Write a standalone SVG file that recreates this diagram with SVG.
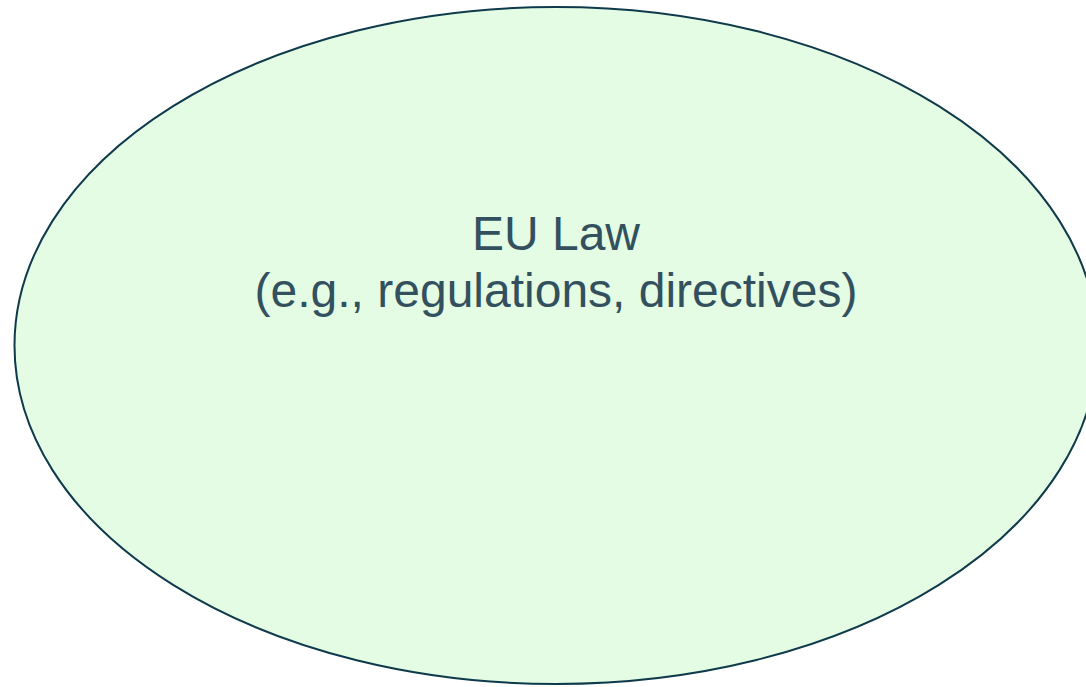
<svg xmlns="http://www.w3.org/2000/svg" width="1086" height="687" viewBox="0 0 1086 687">
  <style>
    .node-shape { fill: #e3fce3; stroke: #0e3a4b; stroke-width: 2; }
    .node-label { font-family: "Liberation Sans", Arial, sans-serif; font-size: 48px; fill: #33505f; text-anchor: middle; }
  </style>
  <rect width="1086" height="687" fill="#ffffff"/>
  <g id="eu-law">
    <ellipse class="node-shape" cx="556" cy="345.5" rx="541.5" ry="338.5"/>
    <text class="node-label" x="556" y="249.5">EU Law</text>
    <text class="node-label" x="556" y="307">(e.g., regulations, directives)</text>
  </g>
  <g id="connectors"/>
</svg>
